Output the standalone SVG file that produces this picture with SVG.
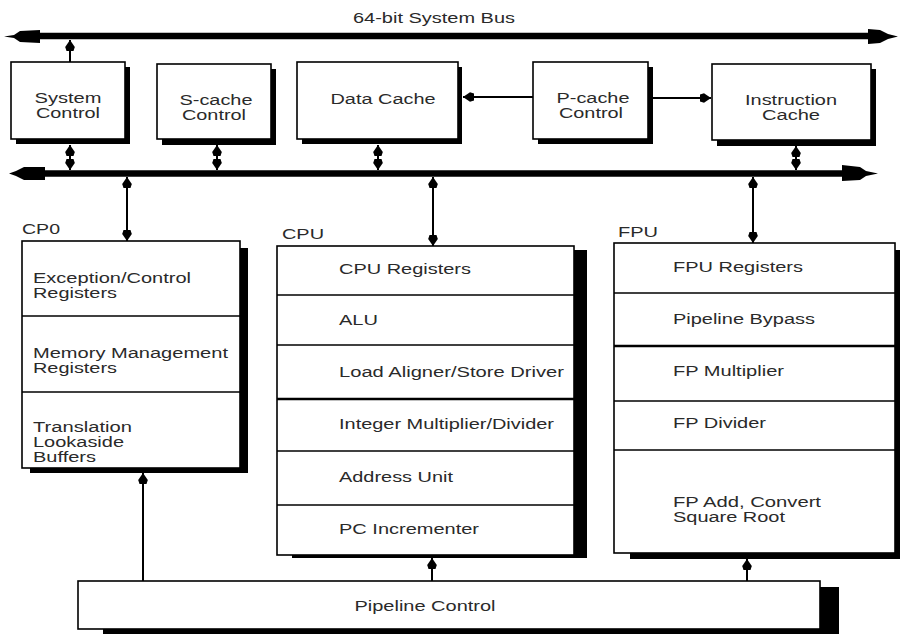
<svg xmlns="http://www.w3.org/2000/svg" width="900" height="634" viewBox="0 0 900 634">
<defs>
<style>
.bx{fill:#fff;stroke:#000;stroke-width:1.6}
.sh{fill:#000}
.dv{stroke:#000;stroke-width:1.5}
.dvt{stroke:#000;stroke-width:2.5}
.t{font-family:"Liberation Sans",Arial,sans-serif;font-size:14px;fill:#2a2a2a}
.m{text-anchor:middle}
.ln{stroke:#000;stroke-width:2;fill:none}
.bus{stroke:#000;stroke-width:6.5;fill:none}
</style>
<marker id="ah" viewBox="0 -5 11 10" refX="11" refY="0" markerWidth="11" markerHeight="10" markerUnits="userSpaceOnUse" orient="auto-start-reverse">
<path d="M0,-3.5 L4,-4.8 L11,0 L4,4.8 L0,3.5 Z" fill="#000"/>
</marker>
</defs>
<rect width="900" height="634" fill="#fff"/>

<text class="t" x="353" y="23" textLength="162" lengthAdjust="spacingAndGlyphs">64-bit System Bus</text>

<g id="connectors">
<line class="bus" x1="38" y1="36" x2="870" y2="36"/>
<polygon points="4,36.5 14,35 20,31 40,30 40,43 20,42 14,38" fill="#000"/>
<polygon points="868,29 880,30 888,34 898,36.5 888,39 880,43 868,44" fill="#000"/>
<line class="bus" x1="42" y1="173.5" x2="845" y2="173.5"/>
<polygon points="9,173.5 16,171 24,167 45,167 45,180 24,180 16,176" fill="#000"/>
<polygon points="842,165 860,167 866,171 878,173.5 866,176 860,180 842,181" fill="#000"/>
<line class="ln" x1="70" y1="62" x2="70" y2="40" marker-end="url(#ah)"/>
<line class="ln" x1="70" y1="145" x2="70" y2="170" marker-start="url(#ah)" marker-end="url(#ah)"/>
<line class="ln" x1="217" y1="145" x2="217" y2="170" marker-start="url(#ah)" marker-end="url(#ah)"/>
<line class="ln" x1="378" y1="145" x2="378" y2="170" marker-start="url(#ah)" marker-end="url(#ah)"/>
<line class="ln" x1="796" y1="146" x2="796" y2="170" marker-start="url(#ah)" marker-end="url(#ah)"/>
<line class="ln" x1="127" y1="177" x2="127" y2="241" marker-start="url(#ah)" marker-end="url(#ah)"/>
<line class="ln" x1="433" y1="177" x2="433" y2="246" marker-start="url(#ah)" marker-end="url(#ah)"/>
<line class="ln" x1="753" y1="177" x2="753" y2="243" marker-start="url(#ah)" marker-end="url(#ah)"/>
<line class="ln" x1="533" y1="97" x2="463" y2="97" marker-end="url(#ah)"/>
<line class="ln" x1="653" y1="98" x2="711" y2="98" marker-end="url(#ah)"/>
<line class="ln" x1="143" y1="581" x2="143" y2="473" marker-end="url(#ah)"/>
<line class="ln" x1="432" y1="581" x2="432" y2="558" marker-end="url(#ah)"/>
<line class="ln" x1="747" y1="581" x2="747" y2="559" marker-end="url(#ah)"/>
</g>

<g id="system-control">
<rect class="sh" x="16" y="67" width="114" height="77"/>
<rect class="bx" x="11" y="62" width="114" height="77"/>
<text class="t m" x="68" y="103" textLength="67" lengthAdjust="spacingAndGlyphs">System</text>
<text class="t m" x="68" y="118" textLength="64" lengthAdjust="spacingAndGlyphs">Control</text>
</g>

<g id="s-cache-control">
<rect class="sh" x="162" y="69" width="114" height="76"/>
<rect class="bx" x="157" y="64" width="114" height="75"/>
<text class="t m" x="216" y="105" textLength="73" lengthAdjust="spacingAndGlyphs">S-cache</text>
<text class="t m" x="214" y="120" textLength="64" lengthAdjust="spacingAndGlyphs">Control</text>
</g>

<g id="data-cache">
<rect class="sh" x="302" y="67" width="160" height="77"/>
<rect class="bx" x="297" y="62" width="161" height="77"/>
<text class="t m" x="383" y="104" textLength="105" lengthAdjust="spacingAndGlyphs">Data Cache</text>
</g>

<g id="p-cache-control">
<rect class="sh" x="538" y="67" width="115" height="77"/>
<rect class="bx" x="533" y="62" width="115" height="77"/>
<text class="t m" x="593" y="103" textLength="73" lengthAdjust="spacingAndGlyphs">P-cache</text>
<text class="t m" x="591" y="118" textLength="64" lengthAdjust="spacingAndGlyphs">Control</text>
</g>

<g id="instruction-cache">
<rect class="sh" x="717" y="69" width="159" height="77"/>
<rect class="bx" x="712" y="64" width="159" height="76"/>
<text class="t m" x="791" y="105" textLength="92" lengthAdjust="spacingAndGlyphs">Instruction</text>
<text class="t m" x="791" y="120" textLength="58" lengthAdjust="spacingAndGlyphs">Cache</text>
</g>

<g id="cp0">
<text class="t" x="22" y="234" textLength="38" lengthAdjust="spacingAndGlyphs">CP0</text>
<rect class="sh" x="30" y="248" width="218" height="225"/>
<rect class="bx" x="22" y="241" width="218" height="227"/>
<line class="dv" x1="22" y1="316" x2="240" y2="316"/>
<line class="dv" x1="22" y1="392" x2="240" y2="392"/>
<text class="t" x="33" y="283" textLength="158" lengthAdjust="spacingAndGlyphs">Exception/Control</text>
<text class="t" x="33" y="298" textLength="84" lengthAdjust="spacingAndGlyphs">Registers</text>
<text class="t" x="33" y="358" textLength="195" lengthAdjust="spacingAndGlyphs">Memory Management</text>
<text class="t" x="33" y="373" textLength="84" lengthAdjust="spacingAndGlyphs">Registers</text>
<text class="t" x="33" y="432" textLength="99" lengthAdjust="spacingAndGlyphs">Translation</text>
<text class="t" x="33" y="447" textLength="91" lengthAdjust="spacingAndGlyphs">Lookaside</text>
<text class="t" x="33" y="462" textLength="63" lengthAdjust="spacingAndGlyphs">Buffers</text>
</g>

<g id="cpu">
<text class="t" x="282" y="239" textLength="42" lengthAdjust="spacingAndGlyphs">CPU</text>
<rect class="sh" x="292" y="250" width="295" height="308"/>
<rect class="bx" x="277" y="246" width="297" height="309"/>
<line class="dv" x1="277" y1="295" x2="574" y2="295"/>
<line class="dv" x1="277" y1="345" x2="574" y2="345"/>
<line class="dvt" x1="277" y1="399" x2="574" y2="399"/>
<line class="dv" x1="277" y1="451" x2="574" y2="451"/>
<line class="dv" x1="277" y1="505" x2="574" y2="505"/>
<text class="t" x="339" y="274" textLength="132" lengthAdjust="spacingAndGlyphs">CPU Registers</text>
<text class="t" x="339" y="325" textLength="39" lengthAdjust="spacingAndGlyphs">ALU</text>
<text class="t" x="339" y="377" textLength="225" lengthAdjust="spacingAndGlyphs">Load Aligner/Store Driver</text>
<text class="t" x="339" y="429" textLength="215" lengthAdjust="spacingAndGlyphs">Integer Multiplier/Divider</text>
<text class="t" x="339" y="482" textLength="114" lengthAdjust="spacingAndGlyphs">Address Unit</text>
<text class="t" x="339" y="534" textLength="140" lengthAdjust="spacingAndGlyphs">PC Incrementer</text>
</g>

<g id="fpu">
<text class="t" x="618" y="237" textLength="40" lengthAdjust="spacingAndGlyphs">FPU</text>
<rect class="sh" x="630" y="250" width="275" height="309"/>
<rect class="bx" x="614" y="243" width="281" height="310"/>
<line class="dv" x1="614" y1="293" x2="895" y2="293"/>
<line class="dvt" x1="614" y1="346" x2="895" y2="346"/>
<line class="dv" x1="614" y1="401" x2="895" y2="401"/>
<line class="dv" x1="614" y1="450" x2="895" y2="450"/>
<text class="t" x="673" y="272" textLength="130" lengthAdjust="spacingAndGlyphs">FPU Registers</text>
<text class="t" x="673" y="324" textLength="142" lengthAdjust="spacingAndGlyphs">Pipeline Bypass</text>
<text class="t" x="673" y="376" textLength="111" lengthAdjust="spacingAndGlyphs">FP Multiplier</text>
<text class="t" x="673" y="428" textLength="93" lengthAdjust="spacingAndGlyphs">FP Divider</text>
<text class="t" x="673" y="507" textLength="148" lengthAdjust="spacingAndGlyphs">FP Add, Convert</text>
<text class="t" x="673" y="522" textLength="112" lengthAdjust="spacingAndGlyphs">Square Root</text>
</g>

<g id="pipeline-control">
<rect class="sh" x="103" y="587" width="736" height="50"/>
<rect class="bx" x="78" y="581" width="742" height="48"/>
<text class="t m" x="425" y="611" textLength="141" lengthAdjust="spacingAndGlyphs">Pipeline Control</text>
</g>
</svg>
